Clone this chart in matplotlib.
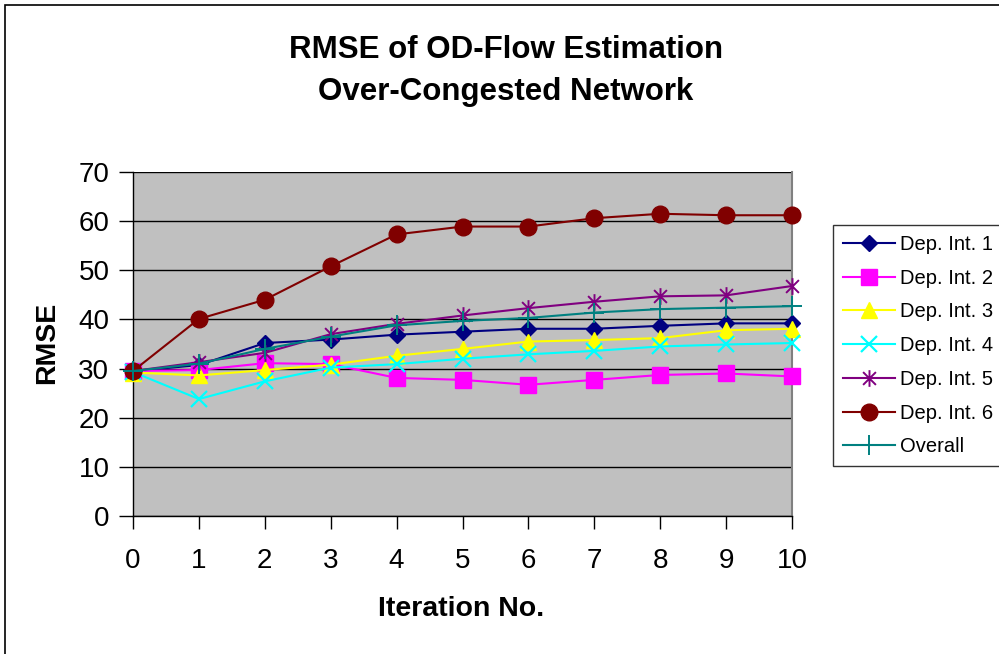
import matplotlib
matplotlib.use("Agg")
import matplotlib.pyplot as plt
from matplotlib.path import Path
from matplotlib.patches import Rectangle

plt.rcParams['font.family'] = ['Liberation Sans', 'DejaVu Sans']

iterations = [0, 1, 2, 3, 4, 5, 6, 7, 8, 9, 10]
dep_int_1 = [29.5, 30.7, 35.2, 35.9, 36.9, 37.5, 38.1, 38.1, 38.7, 39.2, 39.2]
dep_int_2 = [29.5, 29.7, 31.1, 30.9, 28.1, 27.7, 26.7, 27.7, 28.7, 29.0, 28.4]
dep_int_3 = [29.2, 28.6, 29.7, 30.8, 32.6, 34.0, 35.5, 35.8, 36.2, 37.8, 38.1]
dep_int_4 = [29.3, 23.8, 27.4, 30.2, 30.9, 32.0, 32.9, 33.6, 34.5, 34.9, 35.2]
dep_int_5 = [29.5, 31.3, 33.2, 37.0, 39.1, 40.8, 42.3, 43.6, 44.7, 44.9, 46.8]
dep_int_6 = [29.5, 40.1, 44.0, 50.8, 57.3, 58.9, 58.9, 60.6, 61.5, 61.2, 61.2]
overall = [29.5, 31.0, 34.0, 36.5, 38.8, 39.7, 40.3, 41.4, 42.1, 42.4, 42.7]

series_labels = ["Dep. Int. 1", "Dep. Int. 2", "Dep. Int. 3", "Dep. Int. 4",
                 "Dep. Int. 5", "Dep. Int. 6", "Overall"]
y_ticks = [0, 10, 20, 30, 40, 50, 60, 70]

# Excel-style star: an "x" with a vertical bar through it
star = Path([(-1, -1), (1, 1), (-1, 1), (1, -1), (0, -1.3), (0, 1.3)],
            [Path.MOVETO, Path.LINETO, Path.MOVETO, Path.LINETO, Path.MOVETO, Path.LINETO])

styles = [
    dict(color="#000080", marker="D", ms=8, mfc="#000080", mec="#000080"),
    dict(color="#FF00FF", marker="s", ms=11, mfc="#FF00FF", mec="#FF00FF"),
    dict(color="#FFFF00", marker="^", ms=11, mfc="#FFFF00", mec="#FFFF00"),
    dict(color="#00FFFF", marker="x", ms=11, mew=1.6, mfc="#00FFFF", mec="#00FFFF"),
    dict(color="#800080", marker=star, ms=12, mew=1.4, mfc="none", mec="#800080"),
    dict(color="#800000", marker="o", ms=12, mfc="#800000", mec="#800000"),
    dict(color="#008080", marker="+", ms=14, mew=1.4, mfc="#008080", mec="#008080"),
]
series = [dep_int_1, dep_int_2, dep_int_3, dep_int_4, dep_int_5, dep_int_6, overall]

fig = plt.figure(figsize=(9.99, 6.54), dpi=100)
W, H = 999, 654
ax = fig.add_axes([133 / W, (H - 516) / H, (792 - 133) / W, (516 - 172) / H])
ax.set_facecolor("#C0C0C0")

for vals, lab, st in zip(series, series_labels, styles):
    ax.plot(iterations, vals, label=lab, lw=1.5, clip_on=False, zorder=3, **st)

ax.set_xlim(0, 10)
ax.set_ylim(0, 70)
ax.set_xticks(iterations)
ax.set_yticks(y_ticks)
ax.yaxis.grid(True, color="black", lw=1.0)
ax.set_axisbelow(True)

ax.tick_params(axis="y", direction="out", length=10, width=1, labelsize=20, pad=7)
ax.tick_params(axis="x", direction="out", length=9, width=1, labelsize=20, pad=14)

for side in ("left", "bottom"):
    ax.spines[side].set_color("black")
    ax.spines[side].set_linewidth(1.0)
ax.spines["top"].set_visible(False)
ax.spines["right"].set_color("#808080")
ax.spines["right"].set_linewidth(1.5)

# axis titles
fig.text(47 / W, 1 - 342.5 / H, "RMSE", rotation=90, ha="center", va="center",
         fontsize=20.5, fontweight="bold")
fig.text(461 / W, 1 - 616 / H, "Iteration No.", ha="center", va="baseline",
         fontsize=20.5, fontweight="bold")

# chart title
fig.text(506 / W, 1 - 58 / H, "RMSE of OD-Flow Estimation", ha="center", va="baseline",
         fontsize=22.5, fontweight="bold")
fig.text(506 / W, 1 - 100 / H, "Over-Congested Network", ha="center", va="baseline",
         fontsize=22.5, fontweight="bold")

leg = fig.legend(loc="upper left", bbox_to_anchor=(833 / W, 1 - 225 / H),
                 fontsize=14.5, frameon=True, fancybox=False, edgecolor="black",
                 handlelength=2.6, handletextpad=0.25, labelspacing=0.73,
                 borderpad=0.5, borderaxespad=0)
leg.get_frame().set_linewidth(1.0)

# chart area border
fig.add_artist(Rectangle((5 / W, -0.05), 1.1, 1 - 5 / H + 0.05, transform=fig.transFigure,
                         fill=False, edgecolor="black", lw=1.2))

fig.savefig("out.png", dpi=100)
